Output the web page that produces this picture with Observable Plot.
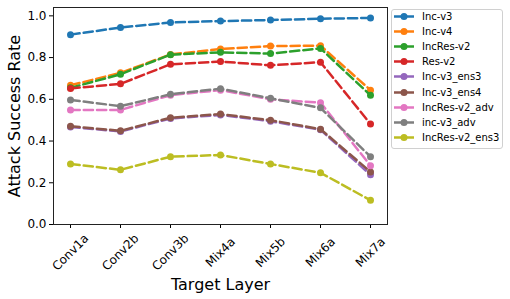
<!DOCTYPE html>
<html><head><meta charset="utf-8">
<script src="https://cdn.jsdelivr.net/npm/d3@7"></script>
<script src="https://cdn.jsdelivr.net/npm/@observablehq/plot@0.6"></script>
<style>
body{margin:0;background:#fff;font-family:"DejaVu Sans",sans-serif;}
#wrap{position:relative;width:510px;height:299px;}
#legend{position:absolute;left:391px;top:9px;width:110px;height:138px;border:1px solid #d0d0d0;border-radius:3px;background:rgba(255,255,255,0.8);font-size:10px;}
.item{position:absolute;left:0;height:15px;line-height:15px;}
.item svg{position:absolute;left:2px;top:0;}
.item span{position:absolute;left:30px;top:0;white-space:nowrap;color:#000;}
</style></head>
<body><div id="wrap"><div id="legend"></div></div>
<script>
const layers = ["Conv1a","Conv2b","Conv3b","Mix4a","Mix5b","Mix6a","Mix7a"];
const seriesNames = ["Inc-v3","Inc-v4","IncRes-v2","Res-v2","Inc-v3_ens3","Inc-v3_ens4","IncRes-v2_adv","inc-v3_adv","IncRes-v2_ens3"];
const colors = ["#1f77b4","#ff7f0e","#2ca02c","#d62728","#9467bd","#8c564b","#e377c2","#7f7f7f","#bcbd22"];
const incV3      = [0.910,0.944,0.968,0.975,0.980,0.986,0.990];
const incV4      = [0.667,0.727,0.815,0.841,0.855,0.857,0.644];
const incResV2   = [0.655,0.720,0.814,0.825,0.819,0.844,0.619];
const resV2      = [0.652,0.674,0.768,0.781,0.763,0.778,0.482];
const incV3Ens3  = [0.467,0.446,0.508,0.525,0.495,0.454,0.238];
const incV3Ens4  = [0.471,0.449,0.512,0.529,0.500,0.457,0.252];
const incResV2Adv= [0.549,0.549,0.620,0.644,0.600,0.584,0.282];
const incV3Adv   = [0.597,0.567,0.624,0.651,0.605,0.559,0.325];
const incResV2Ens3=[0.290,0.262,0.325,0.333,0.290,0.248,0.116];
const values = [incV3,incV4,incResV2,resV2,incV3Ens3,incV3Ens4,incResV2Adv,incV3Adv,incResV2Ens3];
const yTicks = [0,0.2,0.4,0.6,0.8,1.0];

const seriesMarks = [];
seriesNames.forEach((name,i)=>{
  const data = layers.map((l,j)=>({layer:l, v:values[i][j]}));
  seriesMarks.push(Plot.line(data,{x:"layer",y:"v",stroke:colors[i],strokeWidth:2.5,strokeDasharray:"9.25,4"}));
  seriesMarks.push(Plot.dot(data,{x:"layer",y:"v",fill:colors[i],r:3.5}));
});

const chart = Plot.plot({
  width:510, height:299,
  marginLeft:53, marginRight:123, marginTop:7, marginBottom:75,
  style:{fontFamily:"DejaVu Sans", background:"#fff", color:"#000"},
  x:{type:"point", domain:layers, padding:0.3},
  y:{domain:[0,1.04]},
  marks:[
    Plot.axisY({ticks:yTicks, tickFormat:d3.format(".1f"), tickSize:4, fontSize:12, label:null, tickPadding:3}),
    Plot.axisX({tickSize:4, tickFormat:()=>"", label:null}),
    Plot.text(layers,{x:d=>d, frameAnchor:"bottom", dy:28, rotate:-45, textAnchor:"middle", lineAnchor:"middle", fontSize:12}),
    ...seriesMarks,
    Plot.frame({stroke:"#222", strokeWidth:1}),
    Plot.text(["Attack Success Rate"],{frameAnchor:"left", dx:-39, rotate:-90, fontSize:16, textAnchor:"middle", lineAnchor:"middle"}),
    Plot.text(["Target Layer"],{frameAnchor:"bottom", dy:60, fontSize:16, textAnchor:"middle", lineAnchor:"middle"})
  ]
});
document.getElementById("wrap").prepend(chart);

const legend = document.getElementById("legend");
seriesNames.forEach((name,i)=>{
  const div = document.createElement("div");
  div.className="item";
  div.style.top = (i*15.1 - 1)+"px";
  div.innerHTML = `<svg width="22" height="15"><line x1="0" x2="20" y1="7.5" y2="7.5" stroke="${colors[i]}" stroke-width="2.5"/><circle cx="10" cy="7.5" r="3.5" fill="${colors[i]}"/></svg><span>${name}</span>`;
  legend.appendChild(div);
});
</script></body></html>
